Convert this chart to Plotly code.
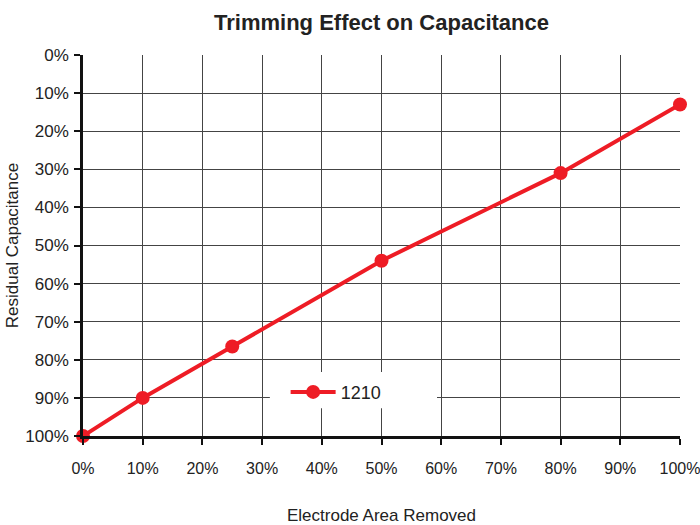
import plotly.graph_objects as go

# Electrode area removed (%) vs residual capacitance (%) for 1210 chips
area_removed = [0, 10, 25, 50, 80, 100]
residual_cap = [100, 90, 76.5, 54, 31, 13]
series_name = "1210"

x_ticks = list(range(0, 101, 10))
y_ticks = list(range(0, 101, 10))
tick_text = [f"{v}%" for v in x_ticks]

font_family = "Liberation Sans Narrow, Liberation Sans, Arial"

fig = go.Figure()
fig.add_trace(go.Scatter(
    x=area_removed, y=residual_cap, name=series_name,
    mode="lines+markers",
    line=dict(color="#ee1c25", width=4),
    marker=dict(color="#ee1c25", size=14),
    cliponaxis=False,
))

# white panel behind the legend that interrupts the grid
fig.add_shape(type="rect", xref="x", yref="y",
              x0=31.3, x1=59.3, y0=83.2, y1=92.7,
              fillcolor="white", line=dict(width=0), layer="above")

fig.update_layout(
    width=700, height=525,
    margin=dict(l=83, r=20, t=55, b=89, autoexpand=False),
    paper_bgcolor="white", plot_bgcolor="white",
    font=dict(family=font_family, size=17, color="#222222"),
    title=dict(text="<b>Trimming Effect on Capacitance</b>",
               xref="paper", x=0.5, xanchor="center",
               yref="container", y=0.958, yanchor="middle",
               font=dict(family=font_family, size=22, color="#222222")),
    showlegend=True,
    legend=dict(x=0.424, y=0.115, xanchor="center", yanchor="middle",
                bgcolor="rgba(0,0,0,0)", borderwidth=0,
                font=dict(size=18),
                itemwidth=45),
)
fig.update_xaxes(
    range=[0, 100], tickvals=x_ticks, ticktext=tick_text,
    tickfont=dict(size=16),
    showgrid=True, gridcolor="#444444", gridwidth=1,
    showline=True, linecolor="#111111", linewidth=2.5,
    ticks="outside", ticklen=6, tickcolor="#111111", tickwidth=1.5,
    ticklabelstandoff=10, ticklabeloverflow="allow",
    zeroline=False, mirror=False, automargin=False,
    title=dict(text="Electrode Area Removed", standoff=34, font=dict(size=17)),
)
fig.update_yaxes(
    range=[100, 0], tickvals=y_ticks, ticktext=[f"{v}%" for v in y_ticks],
    showgrid=True, gridcolor="#444444", gridwidth=1,
    showline=True, linecolor="#111111", linewidth=2.5,
    ticks="outside", ticklen=6, tickcolor="#111111", tickwidth=1.5,
    ticklabelstandoff=2, ticklabeloverflow="allow",
    zeroline=False, automargin=False,
    title=dict(text="Residual Capacitance", standoff=3, font=dict(size=17)),
)

fig.write_html("out.html")
